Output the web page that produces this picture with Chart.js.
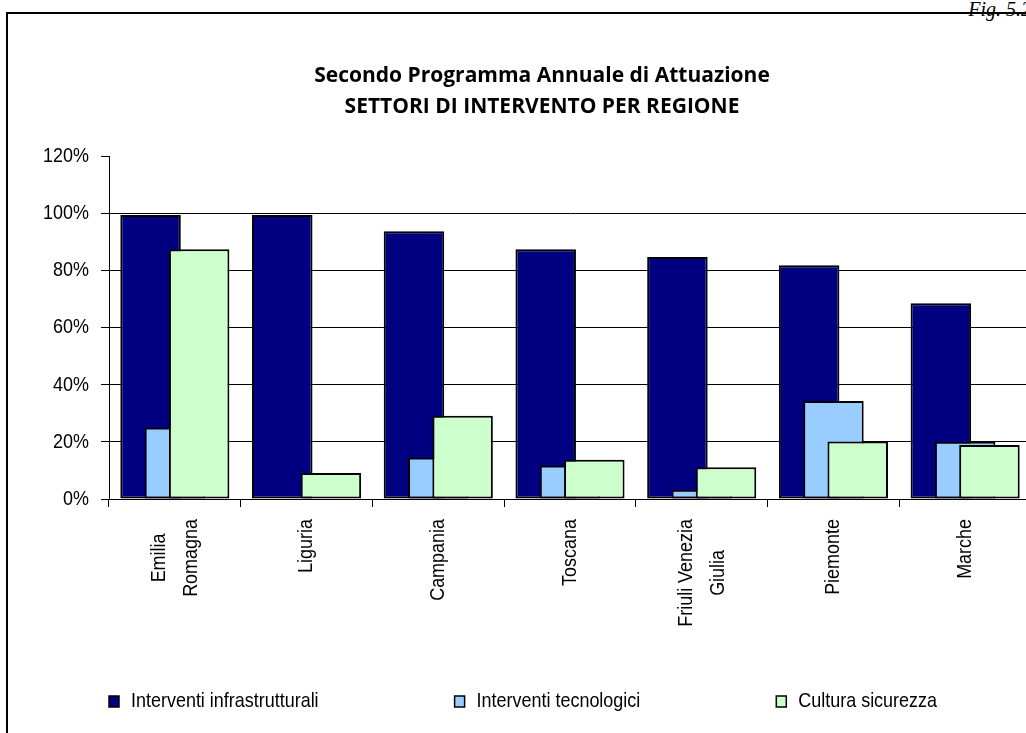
<!DOCTYPE html>
<html>
<head>
<meta charset="utf-8">
<script src="https://cdn.jsdelivr.net/npm/chart.js@4.4.1/dist/chart.umd.min.js"></script>
<style>
  html, body { margin: 0; padding: 0; background: #fff; overflow: hidden; width: 1026px; height: 733px; }
  #fig { position: absolute; top: -2px; right: -5px; font: italic 20px "Liberation Serif", serif; white-space: nowrap; }
  #frame { position: absolute; left: 6px; top: 12px; width: 1068px; height: 760px;
           border-left: 2px solid #000; border-top: 2px solid #000; }
  canvas { display: block; }
</style>
</head>
<body>
<div id="fig">Fig. 5.2</div>
<div id="frame"><canvas id="myChart" width="1068" height="760"></canvas></div>
<script>
// data (percent)
const regions = [['Emilia', 'Romagna'], 'Liguria', 'Campania', 'Toscana', ['Friuli Venezia', 'Giulia'], 'Piemonte', 'Marche'];
const infrastrutturali = [99.4, 99.4, 93.7, 87.4, 84.7, 81.8, 68.5];
const tecnologici = [25.0, 0, 14.5, 11.7, 3.2, 34.3, 20.0];
const cultura = [87.4, 9.1, 29.1, 13.7, 11.1, 20.1, 18.9];
const seriesNames = ['Interventi infrastrutturali', 'Interventi tecnologici', 'Cultura sicurezza'];
const yTicks = [0, 20, 40, 60, 80, 100, 120];

const SANS = '"Liberation Sans", Arial, sans-serif';
const SQUEEZE = 0.855;   // the original uses a condensed Arial

// draw datasets in index order so later series sit in front (Excel overlap)
const overlapOrder = {
  id: 'overlapOrder',
  beforeDatasetsDraw(chart) {
    chart.getSortedVisibleDatasetMetas().forEach(m => m.controller.draw());
    return false;
  }
};

// y tick labels, condensed
const percentLabels = {
  id: 'percentLabels',
  afterDraw(chart) {
    const ctx = chart.ctx;
    const y = chart.scales.y;
    const right = chart.chartArea.left - 8 - 12;
    ctx.save();
    ctx.font = '21px ' + SANS;
    ctx.fillStyle = '#000';
    ctx.textAlign = 'right';
    ctx.textBaseline = 'middle';
    yTicks.forEach(v => {
      ctx.save();
      ctx.translate(right, y.getPixelForValue(v));
      ctx.scale(SQUEEZE, 1);
      ctx.fillText(v + '%', 0, 0);
      ctx.restore();
    });
    ctx.restore();
  }
};

// category labels: rotated, lines centred inside the block
const regionLabels = {
  id: 'regionLabels',
  afterDraw(chart) {
    const ctx = chart.ctx;
    const x = chart.scales.x;
    const top = chart.chartArea.bottom + 20;
    ctx.save();
    ctx.font = '21px ' + SANS;
    ctx.fillStyle = '#000';
    ctx.textAlign = 'center';
    ctx.textBaseline = 'middle';
    regions.forEach((lab, i) => {
      const lines = Array.isArray(lab) ? lab : [lab];
      const w = Math.max(...lines.map(l => ctx.measureText(l).width)) * SQUEEZE;
      ctx.save();
      ctx.translate(x.getPixelForValue(i), top);
      ctx.rotate(-Math.PI / 2);
      lines.forEach((l, j) => {
        ctx.save();
        ctx.translate(-w / 2, (j - (lines.length - 1) / 2) * 32);
        ctx.scale(SQUEEZE, 1);
        ctx.fillText(l, 0, 0);
        ctx.restore();
      });
      ctx.restore();
    });
    ctx.restore();
  }
};

// legend drawn in one row under the labels
const bottomLegend = {
  id: 'bottomLegend',
  afterDraw(chart) {
    const ctx = chart.ctx;
    const y = 687;
    let xPos = chart.chartArea.left;
    ctx.save();
    ctx.font = '21px ' + SANS;
    ctx.textBaseline = 'middle';
    ctx.textAlign = 'left';
    chart.data.datasets.forEach(ds => {
      ctx.fillStyle = ds.backgroundColor;
      ctx.fillRect(xPos, y - 5, 10, 11);
      ctx.strokeStyle = '#000';
      ctx.lineWidth = 1.5;
      ctx.strokeRect(xPos, y - 5, 10, 11);
      ctx.fillStyle = '#000';
      ctx.save();
      ctx.translate(xPos + 22, y);
      ctx.scale(SQUEEZE, 1);
      ctx.fillText(ds.label, 0, 0);
      ctx.restore();
      xPos += 22 + ctx.measureText(ds.label).width * SQUEEZE + 136;
    });
    ctx.restore();
  }
};

const ctx = document.getElementById('myChart');

new Chart(ctx, {
  type: 'bar',
  data: {
    labels: regions,
    datasets: [
      { label: seriesNames[0], data: infrastrutturali, backgroundColor: '#000080' },
      { label: seriesNames[1], data: tecnologici, backgroundColor: '#99CCFF' },
      { label: seriesNames[2], data: cultura, backgroundColor: '#CCFFCC' }
    ]
  },
  options: {
    responsive: false,
    animation: false,
    events: [],
    categoryPercentage: 0.5535,
    barPercentage: 2.49,
    datasets: {
      bar: { borderColor: '#000', borderWidth: 2, borderSkipped: false }
    },
    layout: { padding: { left: 0, right: 0, top: 0, bottom: 95 } },
    plugins: {
      legend: { display: false },
      tooltip: { enabled: false },
      title: {
        display: true,
        text: ['Secondo Programma Annuale di Attuazione', 'SETTORI DI INTERVENTO PER REGIONE'],
        color: '#000',
        font: { family: '"Open Sans", sans-serif', size: 21, weight: 'bold', lineHeight: 1.48 },
        padding: { top: 46, bottom: 34 }
      }
    },
    scales: {
      x: {
        offset: true,
        ticks: { display: false },
        grid: { offset: true, drawOnChartArea: false, drawTicks: true, tickLength: 8, color: '#000', lineWidth: 1 },
        border: { color: '#000', width: 1 },
        afterFit(s) { s.height = 180; }
      },
      y: {
        min: 0,
        max: 120,
        afterBuildTicks(s) { s.ticks = yTicks.map(v => ({ value: v })); },
        ticks: { display: false },
        grid: {
          color: c => (c.tick && c.tick.value === 120) ? 'rgba(0,0,0,0)' : '#000',
          tickColor: '#000',
          tickLength: 8,
          lineWidth: 1
        },
        border: { color: '#000', width: 1 },
        afterFit(s) { s.width = 101; }
      },
      spacer: {
        position: 'right',
        display: true,
        ticks: { display: false },
        grid: { display: false, drawTicks: false },
        border: { display: false },
        afterFit(s) { s.width = 45; }
      }
    }
  },
  plugins: [overlapOrder, percentLabels, regionLabels, bottomLegend]
});
</script>
</body>
</html>
